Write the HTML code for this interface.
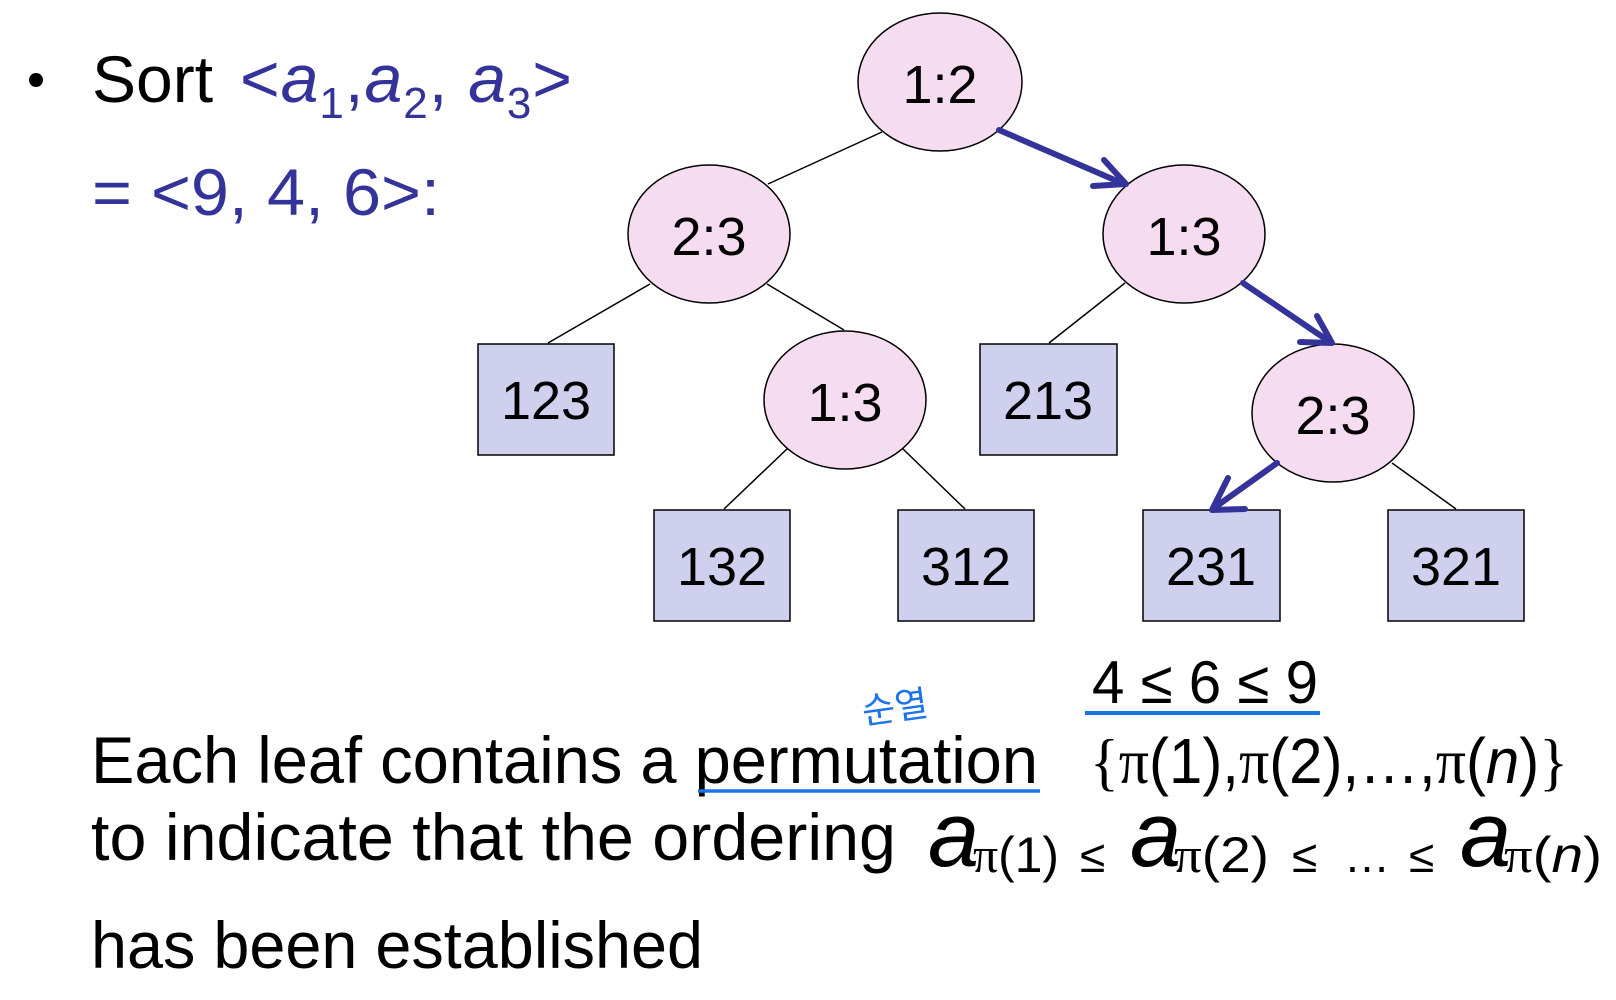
<!DOCTYPE html>
<html><head><meta charset="utf-8"><style>
html,body{margin:0;padding:0;background:#fff;}
svg{display:block;}
text{font-family:"Liberation Sans",Arial,sans-serif;}
</style></head><body>
<svg width="1616" height="1000" viewBox="0 0 1616 1000" xmlns="http://www.w3.org/2000/svg">
<!-- title -->
<circle cx="36" cy="80" r="7" fill="#000"/>
<text x="92" y="102" font-size="66" fill="#000">Sort</text>
<text x="240" y="102" font-size="68" fill="#333399" textLength="332" lengthAdjust="spacing">&lt;<tspan font-style="italic">a</tspan><tspan font-size="44" dy="16">1</tspan><tspan dy="-16">,</tspan><tspan font-style="italic">a</tspan><tspan font-size="44" dy="16">2</tspan><tspan dy="-16">, </tspan><tspan font-style="italic">a</tspan><tspan font-size="44" dy="16">3</tspan><tspan dy="-16">&gt;</tspan></text>
<text x="92" y="215" font-size="66" fill="#333399" textLength="348" lengthAdjust="spacingAndGlyphs">= &lt;9, 4, 6&gt;:</text>

<!-- thin lines -->
<g stroke="#000" stroke-width="1.5">
<line x1="882" y1="132" x2="768" y2="184"/>
<line x1="650" y1="284" x2="548" y2="343"/>
<line x1="767" y1="284" x2="844" y2="330"/>
<line x1="788" y1="448" x2="724" y2="509"/>
<line x1="902" y1="448" x2="965" y2="509"/>
<line x1="1125" y1="283" x2="1049" y2="343"/>
<line x1="1392" y1="463" x2="1456" y2="509"/>
</g>

<!-- nodes -->
<g fill="#f6dcf1" stroke="#000" stroke-width="1.5">
<ellipse cx="940" cy="82" rx="82" ry="69"/>
<ellipse cx="709" cy="234" rx="81" ry="69"/>
<ellipse cx="1184" cy="234" rx="81" ry="69"/>
<ellipse cx="845" cy="400" rx="81" ry="69"/>
<ellipse cx="1333" cy="413" rx="81" ry="69"/>
</g>
<g fill="#cfd0ee" stroke="#000" stroke-width="1.5">
<rect x="478" y="344" width="136" height="111"/>
<rect x="980" y="344" width="137" height="111"/>
<rect x="654" y="510" width="136" height="111"/>
<rect x="898" y="510" width="136" height="111"/>
<rect x="1143" y="510" width="137" height="111"/>
<rect x="1388" y="510" width="136" height="111"/>
</g>
<g font-size="54" text-anchor="middle" fill="#000">
<text x="940" y="103">1:2</text>
<text x="709" y="255">2:3</text>
<text x="1184" y="255">1:3</text>
<text x="845" y="421">1:3</text>
<text x="1333" y="434">2:3</text>
<text x="546" y="419">123</text>
<text x="1048" y="419">213</text>
<text x="722" y="585">132</text>
<text x="966" y="585">312</text>
<text x="1211" y="585">231</text>
<text x="1456" y="585">321</text>
</g>

<!-- arrows -->
<g stroke="#333399" stroke-width="6" stroke-linecap="round" stroke-linejoin="round" fill="none">
<line x1="999" y1="130" x2="1124" y2="184"/>
<polyline points="1104,160 1126,184 1093,186"/>
<line x1="1243" y1="283" x2="1330" y2="342"/>
<polyline points="1317,316 1332,343 1300,342"/>
<line x1="1277" y1="463" x2="1214" y2="508"/>
<polyline points="1228,478 1212,510 1245,509"/>
</g>

<!-- bottom text -->
<text x="862" y="722" font-size="36" fill="#1a73e8" font-family="'Noto Sans CJK KR',sans-serif" transform="rotate(-8 880 710)">순열</text>
<text x="1092" y="703" font-size="60" fill="#000" textLength="226" lengthAdjust="spacingAndGlyphs">4 ≤ 6 ≤ 9</text>
<line x1="1085" y1="713" x2="1320" y2="713" stroke="#1a73e8" stroke-width="4"/>

<text x="91" y="783" font-size="66" fill="#000" textLength="947" lengthAdjust="spacingAndGlyphs">Each leaf contains a permutation</text>
<line x1="698" y1="791" x2="1040" y2="791" stroke="#1a73e8" stroke-width="3.5"/>
<text x="1090" y="783" font-size="64" fill="#000" textLength="478" lengthAdjust="spacingAndGlyphs"><tspan font-family="'Liberation Serif',serif">{π</tspan>(1),<tspan font-family="'Liberation Serif',serif">π</tspan>(2),…,<tspan font-family="'Liberation Serif',serif">π</tspan>(<tspan font-style="italic">n</tspan>)<tspan font-family="'Liberation Serif',serif">}</tspan></text>

<text x="91" y="860" font-size="66" fill="#000" textLength="805" lengthAdjust="spacingAndGlyphs">to indicate that the  ordering</text>
<g fill="#000">
<text x="928" y="866" font-size="92" font-style="italic">a</text>
<text x="973" y="872" font-size="50" textLength="86" lengthAdjust="spacingAndGlyphs"><tspan font-family="'Liberation Serif',serif">π</tspan>(1)</text>
<text x="1080" y="872" font-size="46">≤</text>
<text x="1130" y="866" font-size="92" font-style="italic">a</text>
<text x="1174" y="872" font-size="50" textLength="95" lengthAdjust="spacingAndGlyphs"><tspan font-family="'Liberation Serif',serif">π</tspan>(2)</text>
<text x="1292" y="872" font-size="46">≤</text>
<text x="1344" y="872" font-size="46">…</text>
<text x="1409" y="872" font-size="46">≤</text>
<text x="1460" y="866" font-size="92" font-style="italic">a</text>
<text x="1504" y="872" font-size="50" textLength="98" lengthAdjust="spacingAndGlyphs"><tspan font-family="'Liberation Serif',serif">π</tspan>(<tspan font-style="italic">n</tspan>)</text>
</g>

<text x="91" y="968" font-size="66" fill="#000" textLength="612" lengthAdjust="spacingAndGlyphs">has been established</text>
</svg>
</body></html>
